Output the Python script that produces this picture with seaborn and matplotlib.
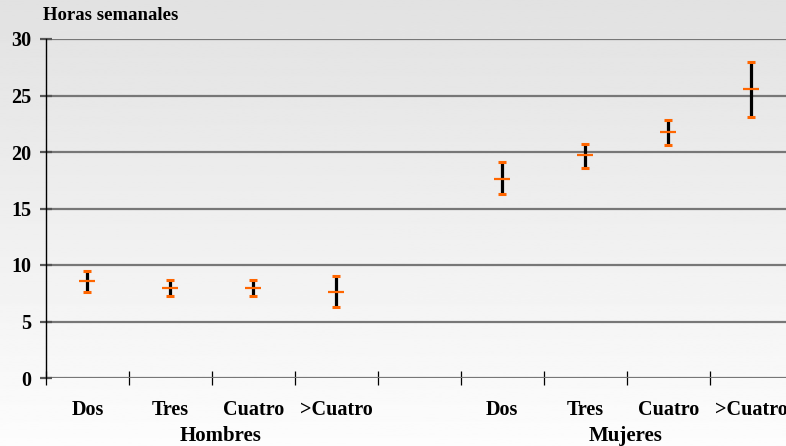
import numpy as np
import pandas as pd
import seaborn as sns
import matplotlib.pyplot as plt

# datos
categorias = ['Dos', 'Tres', 'Cuatro', '>Cuatro']
hombres_media = [8.55, 8.0, 8.0, 7.65]
hombres_min = [7.65, 7.3, 7.3, 6.3]
hombres_max = [9.45, 8.65, 8.65, 9.0]
mujeres_media = [17.65, 19.7, 21.75, 25.55]
mujeres_min = [16.25, 18.6, 20.6, 23.1]
mujeres_max = [19.15, 20.7, 22.8, 27.95]

# Hombres en posiciones 0-3, hueco en 4, Mujeres en 5-8
df = pd.DataFrame({
    'pos': list(range(4)) + list(range(5, 9)),
    'cat': categorias + categorias,
    'media': hombres_media + mujeres_media,
    'min': hombres_min + mujeres_min,
    'max': hombres_max + mujeres_max,
})

sns.set_theme(style='white')
plt.rcParams['font.family'] = ['Liberation Serif', 'DejaVu Serif']
plt.rcParams['font.weight'] = 'bold'
plt.rcParams['text.color'] = 'black'
plt.rcParams['xtick.color'] = 'black'
plt.rcParams['ytick.color'] = 'black'

fig = plt.figure(figsize=(7.86, 4.46), dpi=100)

# fondo degradado
bg = fig.add_axes([0, 0, 1, 1], zorder=-10)
grad = np.linspace(0.885, 0.99, 256).reshape(-1, 1)
bg.imshow(grad, aspect='auto', cmap='gray', vmin=0, vmax=1, extent=[0, 1, 0, 1])
bg.axis('off')

ax = fig.add_axes([46 / 786, 1 - 378 / 446, 1 - 46 / 786, (378 - 39) / 446])
ax.set_facecolor('none')

naranja = '#ff6600'
ax.vlines(df['pos'], df['min'], df['max'], color='black', linewidth=2.3, zorder=3)
sns.scatterplot(data=df, x='pos', y='min', marker='_', s=30, color=naranja,
                linewidth=2.2, ax=ax, zorder=4)
sns.scatterplot(data=df, x='pos', y='max', marker='_', s=30, color=naranja,
                linewidth=2.2, ax=ax, zorder=4)
sns.scatterplot(data=df, x='pos', y='media', marker='_', s=120, color=naranja,
                linewidth=1.6, ax=ax, zorder=5)

ax.set_ylim(0, 30)
ax.set_xlim(-0.5, 8.42)
ax.set_yticks(range(0, 31, 5))
ax.yaxis.grid(True, color='#777777', linewidth=1.6)
ax.set_axisbelow(True)

ax.set_xticks(df['pos'])
ax.set_xticklabels(df['cat'], fontsize=14.5, fontweight='bold')
ax.tick_params(axis='x', which='major', length=0, pad=16)
ax.set_xticks(np.arange(-0.5, 8, 1), minor=True)
ax.tick_params(axis='x', which='minor', direction='inout', length=10, width=0.9,
               color='black', bottom=True)
ax.tick_params(axis='y', direction='inout', length=9, width=1.6, color='#555555',
               labelsize=14.5, pad=6, left=True)
for lab in ax.get_yticklabels():
    lab.set_fontweight('bold')

for s in ['top', 'right', 'bottom']:
    ax.spines[s].set_visible(False)
ax.spines['left'].set_color('black')
ax.spines['left'].set_linewidth(1.0)
ax.set_xlabel('')
ax.set_ylabel('')

fig.text(43 / 786, 1 - 16 / 446, 'Horas semanales', fontsize=13.5,
         fontweight='bold', va='center', ha='left')
ax.text(1.6, -0.17, 'Hombres', transform=ax.get_xaxis_transform(),
        fontsize=15, fontweight='bold', ha='center', va='center')
ax.text(6.49, -0.17, 'Mujeres', transform=ax.get_xaxis_transform(),
        fontsize=15, fontweight='bold', ha='center', va='center')

fig.savefig('out.png', dpi=100)
